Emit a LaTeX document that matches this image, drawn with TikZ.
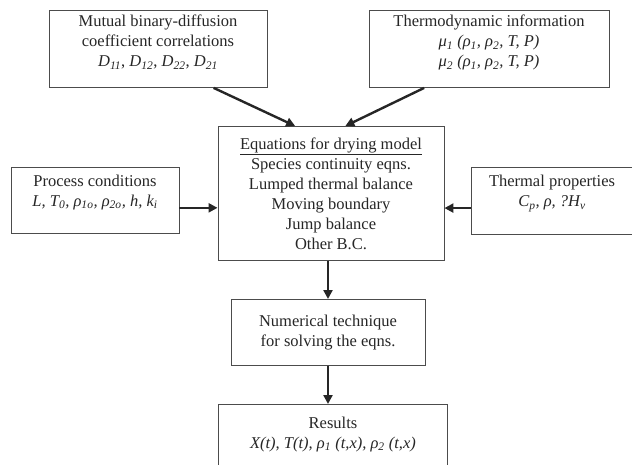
\documentclass[tikz,border=0pt]{standalone}
\usepackage{fontspec}
\setmainfont{Liberation Serif}
\usetikzlibrary{arrows.meta}
\newcommand{\vD}[1]{\textit{D\textsubscript{#1}}}
\newcommand{\vr}[1]{\textit{ρ\textsubscript{#1}}}
\newcommand{\vmu}[1]{\textit{μ\textsubscript{#1}}}

\begin{document}
\begin{tikzpicture}[x=1pt, y=-1pt,
  box/.style={draw=black!70, line width=0.9pt, fill=white, anchor=north, align=center,
    inner sep=0pt, text=black!85, font=\fontsize{16.5}{20}\selectfont},
  flow/.style={line width=2.4pt, black!85, -{Triangle[length=9pt,width=9pt]}}]
\useasboundingbox (0,0) rectangle (632,465);
\node [box, minimum width=218pt, minimum height=77pt] (diff) at (158,10)
  {Mutual binary-diffusion\\ coefficient correlations\\ \vD{11}, \vD{12}, \vD{22}, \vD{21}\\[-4pt]};
\node [box, minimum width=240pt, minimum height=77pt] (thermo) at (489,10)
  {Thermodynamic information\\ \vmu{1} \textit{(\vr{1}, \vr{2}, T, P)}\\ \vmu{2} \textit{(\vr{1}, \vr{2}, T, P)}\\[-4pt]};
\node [box, minimum width=226pt, minimum height=134pt] (eqn) at (331,126)
  {\underline{Equations for drying model}\\ Species continuity eqns.\\ Lumped thermal balance\\
   Moving boundary\\ Jump balance\\ Other B.C.};
\node [box, minimum width=168pt, minimum height=66pt] (proc) at (95,167)
  {Process conditions\\ \textit{L, T\textsubscript{0}, \vr{1o}, \vr{2o}, h, k\textsubscript{i}}\\ \mbox{}};
\node [box, minimum width=162pt, minimum height=67pt] (therm) at (552,167)
  {Thermal properties\\ \textit{C\textsubscript{p}, ρ, ?H\textsubscript{v}}\\ \mbox{}};
\node [box, minimum width=194pt, minimum height=66pt] (num) at (328,299)
  {Numerical technique\\ for solving the eqns.};
\node [box, minimum width=229pt, minimum height=76pt] (res) at (333,404)
  {Results\\ \textit{X(t), T(t), \vr{1} (t,x), \vr{2} (t,x)}\\ \mbox{}};
% arrows into the model box
\draw [flow] (diff.-35) -- (eqn.118);
\draw [flow] (thermo.-149) -- (eqn.78);
\draw [flow] (proc.-5) -- (proc.-5 -| eqn.west);
\draw [flow] (therm.185) -- (therm.185 -| eqn.east);
\draw [flow] (num.north |- eqn.south) -- (num.north);
\draw [flow] (num.south) -- (num.south |- res.north);
\end{tikzpicture}
\end{document}
